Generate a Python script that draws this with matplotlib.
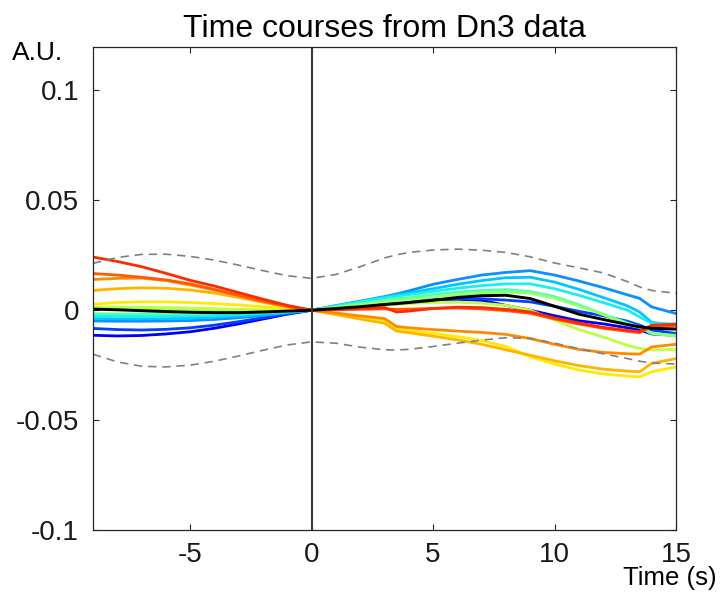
import matplotlib
matplotlib.use("Agg")
import matplotlib.pyplot as plt

plt.rcParams['font.family'] = ['Liberation Sans', 'DejaVu Sans']

# Time samples (s)
t = [-9, -8, -7, -6, -5, -4, -3, -2, -1, 0, 1, 2, 3, 3.5, 4, 5, 6, 7, 8, 9, 10, 11, 12, 13, 13.5, 14, 15]

# Individual time courses (A.U.)
dark_blue = [-0.0114, -0.0117, -0.0115, -0.0108, -0.0098, -0.0082, -0.0062, -0.0040, -0.0018, 0,
             0.0012, 0.0024, 0.0034, 0.0037, 0.0040, 0.0048, 0.0050, 0.0045, 0.0022, 0.0000,
             -0.0025, -0.0048, -0.0062, -0.0080, -0.0090, -0.0108, -0.0114]
blue = [-0.0083, -0.0088, -0.0090, -0.0087, -0.0080, -0.0068, -0.0052, -0.0034, -0.0016, 0,
        0.0012, 0.0024, 0.0034, 0.0038, 0.0041, 0.0048, 0.0052, 0.0052, 0.0046, 0.0038,
        0.0018, -0.0005, -0.0025, -0.0050, -0.0068, -0.0090, -0.0106]
light_blue = [-0.0049, -0.0050, -0.0050, -0.0049, -0.0047, -0.0042, -0.0034, -0.0024, -0.0012, 0,
              0.0021, 0.0041, 0.0062, 0.0074, 0.0088, 0.0118, 0.0140, 0.0160, 0.0172, 0.0180,
              0.0160, 0.0133, 0.0103, 0.0070, 0.0054, 0.0015, -0.0015]
cyan = [-0.0038, -0.0039, -0.0039, -0.0038, -0.0036, -0.0032, -0.0027, -0.0019, -0.0010, 0,
        0.0020, 0.0040, 0.0060, 0.0069, 0.0078, 0.0098, 0.0118, 0.0135, 0.0148, 0.0150,
        0.0128, 0.0095, 0.0058, 0.0020, -0.0008, -0.0055, -0.0068]
light_cyan = [-0.0027, -0.0028, -0.0028, -0.0027, -0.0026, -0.0023, -0.0019, -0.0013, -0.0007, 0,
              0.0019, 0.0038, 0.0056, 0.0064, 0.0071, 0.0086, 0.0100, 0.0112, 0.0120, 0.0120,
              0.0098, 0.0068, 0.0035, 0.0000, -0.0030, -0.0060, -0.0062]
green_cyan = [-0.0016, -0.0017, -0.0017, -0.0016, -0.0015, -0.0013, -0.0010, -0.0007, -0.0003, 0,
              0.0015, 0.0030, 0.0045, 0.0051, 0.0057, 0.0072, 0.0083, 0.0090, 0.0094, 0.0085,
              0.0062, 0.0025, -0.0018, -0.0058, -0.0076, -0.0106, -0.0114]
green = [0.0008, 0.0008, 0.0007, 0.0006, 0.0004, 0.0002, 0.0001, 0.0000, 0.0000, 0,
         0.0013, 0.0026, 0.0038, 0.0043, 0.0048, 0.0060, 0.0070, 0.0078, 0.0082, 0.0078,
         0.0055, 0.0020, -0.0020, -0.0062, -0.0078, -0.0105, -0.0118]
yellow_green = [0.0014, 0.0015, 0.0014, 0.0012, 0.0010, 0.0007, 0.0004, 0.0002, 0.0001, 0,
                0.0008, 0.0016, 0.0024, 0.0027, 0.0030, 0.0035, 0.0036, 0.0032, 0.0022, 0.0000,
                -0.0045, -0.0088, -0.0122, -0.0160, -0.0174, -0.0180, -0.0178]
yellow = [0.0027, 0.0035, 0.0038, 0.0038, 0.0035, 0.0030, 0.0024, 0.0016, 0.0008, 0,
          -0.0015, -0.0030, -0.0045, -0.0086, -0.0092, -0.0105, -0.0120, -0.0138, -0.0165, -0.0212,
          -0.0245, -0.0272, -0.0290, -0.0300, -0.0303, -0.0280, -0.0258]
orange_yellow = [0.0090, 0.0098, 0.0102, 0.0100, 0.0092, 0.0078, 0.0058, 0.0036, 0.0016, 0,
                 -0.0020, -0.0040, -0.0059, -0.0095, -0.0102, -0.0118, -0.0135, -0.0155, -0.0180, -0.0205,
                 -0.0230, -0.0252, -0.0268, -0.0277, -0.0280, -0.0242, -0.0220]
orange = [0.0140, 0.0145, 0.0146, 0.0135, 0.0115, 0.0092, 0.0066, 0.0040, 0.0017, 0,
          -0.0013, -0.0026, -0.0038, -0.0074, -0.0080, -0.0088, -0.0095, -0.0101, -0.0110, -0.0129,
          -0.0155, -0.0178, -0.0192, -0.0198, -0.0200, -0.0167, -0.0155]
orange_red = [0.0167, 0.0160, 0.0150, 0.0138, 0.0120, 0.0095, 0.0068, 0.0042, 0.0018, 0,
              0.0002, 0.0004, 0.0006, 0.0004, 0.0005, 0.0008, 0.0010, 0.0006, -0.0002, -0.0014,
              -0.0040, -0.0063, -0.0082, -0.0096, -0.0102, -0.0075, -0.0072]
red = [0.0242, 0.0222, 0.0198, 0.0168, 0.0136, 0.0110, 0.0080, 0.0050, 0.0022, 0,
       0.0004, 0.0008, 0.0012, -0.0008, -0.0004, 0.0008, 0.0014, 0.0012, 0.0004, -0.0008,
       -0.0035, -0.0058, -0.0078, -0.0092, -0.0098, -0.0068, -0.0064]

# Mean time course and confidence band
mean = [0.0005, 0.0002, -0.0002, -0.0006, -0.0009, -0.0011, -0.0011, -0.0008, -0.0004, 0,
        0.0008, 0.0016, 0.0026, 0.0030, 0.0035, 0.0045, 0.0058, 0.0066, 0.0068, 0.0053,
        0.0018, -0.0018, -0.0042, -0.0065, -0.0076, -0.0082, -0.0086]
upper = [0.0213, 0.0240, 0.0254, 0.0255, 0.0245, 0.0228, 0.0205, 0.0180, 0.0157, 0.0145,
         0.0163, 0.0198, 0.0238, 0.0252, 0.0263, 0.0274, 0.0278, 0.0273, 0.0263, 0.0243,
         0.0215, 0.0193, 0.0170, 0.0130, 0.0106, 0.0090, 0.0077]
lower = [-0.0200, -0.0235, -0.0255, -0.0258, -0.0250, -0.0232, -0.0208, -0.0182, -0.0158, -0.0144,
         -0.0150, -0.0168, -0.0180, -0.0181, -0.0178, -0.0165, -0.0150, -0.0136, -0.0125, -0.0128,
         -0.0150, -0.0175, -0.0198, -0.0220, -0.0232, -0.0240, -0.0245]

series = [
    (dark_blue, '#0000f5'),
    (blue, '#0040ff'),
    (light_blue, '#0a90ff'),
    (cyan, '#00c8ff'),
    (light_cyan, '#1ceef0'),
    (green_cyan, '#50ffb0'),
    (green, '#90ff70'),
    (yellow_green, '#c0ff40'),
    (yellow, '#ffea00'),
    (orange_yellow, '#ffb400'),
    (orange, '#ff8a00'),
    (orange_red, '#ff5a00'),
    (red, '#ff2a00'),
]

xticks = [-5, 0, 5, 10, 15]
xticklabels = ['-5', '0', '5', '10', '15']
yticks = [-0.1, -0.05, 0, 0.05, 0.1]
yticklabels = ['-0.1', '-0.05', '0', '0.05', '0.1']

fig = plt.figure(figsize=(7.22, 5.94), dpi=100)
ax = fig.add_axes([93 / 722, 1 - 530 / 594, (676 - 93) / 722, (530 - 46.5) / 594])

for vals, col in series:
    ax.plot(t, vals, color=col, lw=2.0, solid_joinstyle='miter')

ax.plot(t, upper, color='#808080', lw=1.2, dashes=(5, 3.5))
ax.plot(t, lower, color='#808080', lw=1.2, dashes=(5, 3.5))
ax.plot(t, mean, color='black', lw=2.1)

ax.axvline(0, color='#3a3a3a', lw=1.5)

ax.set_xlim(-9, 15)
ax.set_ylim(-0.1, 0.12)
ax.set_xticks(xticks)
ax.set_xticklabels(xticklabels)
ax.set_yticks(yticks)
ax.set_yticklabels(yticklabels)

ax.tick_params(axis='both', direction='in', top=True, right=True, length=4,
               width=0.8, color='#262626', labelsize=20, labelcolor='#1a1a1a')
ax.tick_params(axis='x', pad=9)
ax.tick_params(axis='y', pad=10)
for s in ax.spines.values():
    s.set_color('#262626')
    s.set_linewidth(0.9)

ax.set_title('Time courses from Dn3 data', fontsize=23, pad=7, color='black')
fig.text(63 / 722, 1 - 60 / 594, 'A.U.', ha='right', va='baseline', fontsize=19, color='black')
fig.text(717 / 722, 1 - 585 / 594, 'Time (s)', ha='right', va='baseline', fontsize=18.5, color='black')

fig.savefig('out.png', dpi=100)
